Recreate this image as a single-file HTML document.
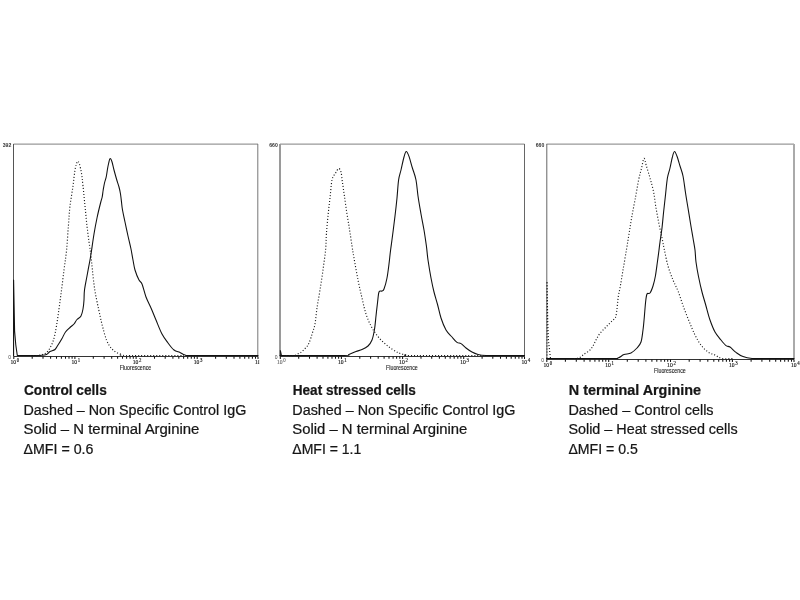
<!DOCTYPE html>
<html><head><meta charset="utf-8"><title>Flow cytometry</title>
<style>html,body{margin:0;padding:0;background:#fff}svg{display:block}</style></head>
<body>
<svg width="800" height="600" viewBox="0 0 800 600">
<rect width="800" height="600" fill="#fff"/>
<g fill="none" stroke-width="1">
<path d="M13.5,144.1H258.0" stroke="#999" stroke-width="1.4"/>
<path d="M13.5,144.0V356.5" stroke="#555" stroke-width="1"/>
<path d="M257.8,144.0V356.5" stroke="#777" stroke-width="1"/>
<path d="M13.5,356.5H258.0" stroke="#333" stroke-width="1"/>
<path d="M13.8,356.5v2.6M32.2,356.5v2.2M43.0,356.5v2.2M50.6,356.5v2.2M56.5,356.5v2.2M61.4,356.5v2.2M65.5,356.5v2.2M69.0,356.5v2.2M72.1,356.5v2.2M74.9,356.5v2.6M93.3,356.5v2.2M104.1,356.5v2.2M111.7,356.5v2.2M117.6,356.5v2.2M122.5,356.5v2.2M126.6,356.5v2.2M130.1,356.5v2.2M133.3,356.5v2.2M136.1,356.5v2.6M154.5,356.5v2.2M165.2,356.5v2.2M172.9,356.5v2.2M178.8,356.5v2.2M183.6,356.5v2.2M187.7,356.5v2.2M191.3,356.5v2.2M194.4,356.5v2.2M197.2,356.5v2.6M215.6,356.5v2.2M226.3,356.5v2.2M234.0,356.5v2.2M239.9,356.5v2.2M244.7,356.5v2.2M248.8,356.5v2.2M252.4,356.5v2.2M255.5,356.5v2.2M258.0,356.5v2.6" stroke="#111" stroke-width="1.05"/>
</g>
<g font-family="'Liberation Serif',serif" fill="#111" stroke="#111" stroke-width="0.15">
<text x="10.4" y="364.3" font-size="6.9" textLength="5.6" lengthAdjust="spacingAndGlyphs">10</text><text x="16.7" y="361.5" font-size="5.6" textLength="2.4" lengthAdjust="spacingAndGlyphs">0</text>
<text x="71.5" y="364.3" font-size="6.9" textLength="5.6" lengthAdjust="spacingAndGlyphs">10</text><text x="77.8" y="361.5" font-size="5.6" textLength="2.4" lengthAdjust="spacingAndGlyphs">1</text>
<text x="132.7" y="364.3" font-size="6.9" textLength="5.6" lengthAdjust="spacingAndGlyphs">10</text><text x="138.9" y="361.5" font-size="5.6" textLength="2.4" lengthAdjust="spacingAndGlyphs">2</text>
<text x="193.8" y="364.3" font-size="6.9" textLength="5.6" lengthAdjust="spacingAndGlyphs">10</text><text x="200.1" y="361.5" font-size="5.6" textLength="2.4" lengthAdjust="spacingAndGlyphs">3</text>
<clipPath id="cl1"><rect x="250" y="350" width="9.2" height="20"/></clipPath>
<text x="254.9" y="364.3" font-size="6.9" textLength="5.6" lengthAdjust="spacingAndGlyphs" clip-path="url(#cl1)">10</text>
</g>
<g font-family="'Liberation Sans',sans-serif" fill="#222">
<text x="2.7" y="146.9" font-size="5.6" font-weight="bold" fill="#333" textLength="8.6" lengthAdjust="spacingAndGlyphs">392</text>
<text x="11.0" y="359.0" font-size="5" text-anchor="end" fill="#444">0</text>
<text x="119.7" y="370.2" font-size="6.8" textLength="31.6" lengthAdjust="spacingAndGlyphs" stroke="#222" stroke-width="0.12">Fluorescence</text>
</g>
<g fill="none" stroke-width="1">
<path d="M280.0,144.1H524.5" stroke="#999" stroke-width="1.4"/>
<path d="M280.0,144.0V356.5" stroke="#9a9a9a" stroke-width="2"/>
<path d="M524.5,144.0V356.5" stroke="#666" stroke-width="1"/>
<path d="M280.0,356.5H524.5" stroke="#333" stroke-width="1"/>
<path d="M280.3,356.5v2.6M298.7,356.5v2.2M309.5,356.5v2.2M317.1,356.5v2.2M323.0,356.5v2.2M327.9,356.5v2.2M332.0,356.5v2.2M335.5,356.5v2.2M338.6,356.5v2.2M341.4,356.5v2.6M359.8,356.5v2.2M370.6,356.5v2.2M378.2,356.5v2.2M384.1,356.5v2.2M389.0,356.5v2.2M393.1,356.5v2.2M396.6,356.5v2.2M399.8,356.5v2.2M402.6,356.5v2.6M421.0,356.5v2.2M431.7,356.5v2.2M439.4,356.5v2.2M445.3,356.5v2.2M450.1,356.5v2.2M454.2,356.5v2.2M457.8,356.5v2.2M460.9,356.5v2.2M463.7,356.5v2.6M482.1,356.5v2.2M492.8,356.5v2.2M500.5,356.5v2.2M506.4,356.5v2.2M511.2,356.5v2.2M515.3,356.5v2.2M518.9,356.5v2.2M522.0,356.5v2.2M524.5,356.5v2.6" stroke="#111" stroke-width="1.05"/>
</g>
<g font-family="'Liberation Serif',serif" fill="#111" stroke="#111" stroke-width="0.15">
<text x="276.9" y="364.3" font-size="6.9" textLength="5.6" lengthAdjust="spacingAndGlyphs" fill="#6a6a6a" stroke="#6a6a6a">10</text><text x="283.2" y="361.5" font-size="5.6" textLength="2.4" lengthAdjust="spacingAndGlyphs" fill="#6a6a6a" stroke="#6a6a6a">0</text>
<text x="338.0" y="364.3" font-size="6.9" textLength="5.6" lengthAdjust="spacingAndGlyphs">10</text><text x="344.3" y="361.5" font-size="5.6" textLength="2.4" lengthAdjust="spacingAndGlyphs">1</text>
<text x="399.1" y="364.3" font-size="6.9" textLength="5.6" lengthAdjust="spacingAndGlyphs">10</text><text x="405.4" y="361.5" font-size="5.6" textLength="2.4" lengthAdjust="spacingAndGlyphs">2</text>
<text x="460.3" y="364.3" font-size="6.9" textLength="5.6" lengthAdjust="spacingAndGlyphs">10</text><text x="466.6" y="361.5" font-size="5.6" textLength="2.4" lengthAdjust="spacingAndGlyphs">3</text>
<text x="521.4" y="364.3" font-size="6.9" textLength="5.6" lengthAdjust="spacingAndGlyphs">10</text><text x="527.7" y="361.5" font-size="5.6" textLength="2.4" lengthAdjust="spacingAndGlyphs">4</text>
</g>
<g font-family="'Liberation Sans',sans-serif" fill="#222">
<text x="269.2" y="146.9" font-size="5.6" font-weight="bold" fill="#333" textLength="8.6" lengthAdjust="spacingAndGlyphs">660</text>
<text x="277.5" y="359.0" font-size="5" text-anchor="end" fill="#444">0</text>
<text x="386.1" y="370.4" font-size="6.8" textLength="31.6" lengthAdjust="spacingAndGlyphs" stroke="#222" stroke-width="0.12">Fluorescence</text>
</g>
<g fill="none" stroke-width="1">
<path d="M546.5,144.1H794.0" stroke="#999" stroke-width="1.4"/>
<path d="M546.8,144.0V359.5" stroke="#666" stroke-width="1"/>
<path d="M794.0,144.0V359.5" stroke="#aaa" stroke-width="2"/>
<path d="M546.5,359.5H794.0" stroke="#333" stroke-width="1"/>
<path d="M546.8,359.5v2.6M565.4,359.5v2.2M576.3,359.5v2.2M584.1,359.5v2.2M590.0,359.5v2.2M594.9,359.5v2.2M599.1,359.5v2.2M602.7,359.5v2.2M605.8,359.5v2.2M608.7,359.5v2.6M627.3,359.5v2.2M638.2,359.5v2.2M645.9,359.5v2.2M651.9,359.5v2.2M656.8,359.5v2.2M661.0,359.5v2.2M664.6,359.5v2.2M667.7,359.5v2.2M670.5,359.5v2.6M689.2,359.5v2.2M700.1,359.5v2.2M707.8,359.5v2.2M713.8,359.5v2.2M718.7,359.5v2.2M722.8,359.5v2.2M726.4,359.5v2.2M729.6,359.5v2.2M732.4,359.5v2.6M751.1,359.5v2.2M761.9,359.5v2.2M769.7,359.5v2.2M775.7,359.5v2.2M780.6,359.5v2.2M784.7,359.5v2.2M788.3,359.5v2.2M791.5,359.5v2.2M794.0,359.5v2.6" stroke="#111" stroke-width="1.05"/>
</g>
<g font-family="'Liberation Serif',serif" fill="#111" stroke="#111" stroke-width="0.15">
<text x="543.4" y="367.3" font-size="6.9" textLength="5.6" lengthAdjust="spacingAndGlyphs">10</text><text x="549.7" y="364.5" font-size="5.6" textLength="2.4" lengthAdjust="spacingAndGlyphs">0</text>
<text x="605.3" y="367.3" font-size="6.9" textLength="5.6" lengthAdjust="spacingAndGlyphs">10</text><text x="611.6" y="364.5" font-size="5.6" textLength="2.4" lengthAdjust="spacingAndGlyphs">1</text>
<text x="667.1" y="367.3" font-size="6.9" textLength="5.6" lengthAdjust="spacingAndGlyphs">10</text><text x="673.5" y="364.5" font-size="5.6" textLength="2.4" lengthAdjust="spacingAndGlyphs">2</text>
<text x="729.0" y="367.3" font-size="6.9" textLength="5.6" lengthAdjust="spacingAndGlyphs">10</text><text x="735.3" y="364.5" font-size="5.6" textLength="2.4" lengthAdjust="spacingAndGlyphs">3</text>
<text x="790.9" y="367.3" font-size="6.9" textLength="5.6" lengthAdjust="spacingAndGlyphs">10</text><text x="797.2" y="364.5" font-size="5.6" textLength="2.4" lengthAdjust="spacingAndGlyphs">4</text>
</g>
<g font-family="'Liberation Sans',sans-serif" fill="#222">
<text x="535.7" y="146.9" font-size="5.6" font-weight="bold" fill="#333" textLength="8.6" lengthAdjust="spacingAndGlyphs">660</text>
<text x="544.0" y="362.0" font-size="5" text-anchor="end" fill="#444">0</text>
<text x="654.1" y="373.1" font-size="6.8" textLength="31.6" lengthAdjust="spacingAndGlyphs" stroke="#222" stroke-width="0.12">Fluorescence</text>
</g>
<g fill="none" stroke="#111" stroke-width="1.08" stroke-linejoin="round" stroke-linecap="round">
<path d="M13.6,355.5L13.6,280.0L14.6,331.0L15.8,345.0L17.3,355.5L40.0,355.5"/>
<path d="M40.0,355.5C41.1,355.3 44.8,355.2 46.5,354.5C48.2,353.8 48.6,352.3 50.0,351.5C51.4,350.7 53.7,350.6 55.0,349.5C56.3,348.4 56.8,346.8 58.0,345.0C59.2,343.2 60.8,340.7 62.0,338.5C63.2,336.3 64.2,333.8 65.5,332.0C66.8,330.2 68.6,328.8 70.0,327.5C71.4,326.2 72.8,325.3 74.0,324.0C75.2,322.7 75.8,320.8 77.0,319.5C78.2,318.2 80.0,317.8 81.0,316.0C82.0,314.2 82.5,311.7 83.0,309.0C83.5,306.3 83.8,303.2 84.0,300.0C84.2,296.8 84.0,294.0 84.5,290.0C85.0,286.0 86.1,281.0 87.0,276.0C87.9,271.0 89.3,263.7 90.0,260.0C90.7,256.3 90.3,258.3 91.0,254.0C91.7,249.7 93.0,240.0 94.0,234.0C95.0,228.0 95.9,223.3 97.0,218.0C98.1,212.7 99.9,205.5 100.8,202.0C101.7,198.5 101.8,199.0 102.2,197.0C102.6,195.0 102.8,192.3 103.2,190.0C103.6,187.7 104.0,185.2 104.5,183.0C105.0,180.8 105.7,179.3 106.2,177.0C106.7,174.7 107.1,171.3 107.5,169.0C107.9,166.7 108.3,164.7 108.7,163.0C109.1,161.3 109.5,158.9 110.0,158.6C110.5,158.3 111.1,159.3 111.8,161.2C112.5,163.1 113.2,167.0 114.0,170.0C114.8,173.0 115.7,176.2 116.5,179.0C117.3,181.8 118.3,184.5 119.0,187.0C119.7,189.5 120.1,191.5 120.5,194.0C120.9,196.5 121.2,199.3 121.5,202.0C121.8,204.7 121.9,206.7 122.5,210.0C123.1,213.3 124.1,217.7 125.0,222.0C125.9,226.3 127.0,231.5 128.0,236.0C129.0,240.5 130.2,245.0 131.0,249.0C131.8,253.0 132.3,256.5 133.0,260.0C133.7,263.5 134.0,266.7 135.0,270.0C136.0,273.3 137.8,277.7 139.0,280.0C140.2,282.3 140.8,281.2 142.0,284.0C143.2,286.8 144.5,293.0 146.0,297.0C147.5,301.0 149.3,304.2 151.0,308.0C152.7,311.8 154.2,315.7 156.0,320.0C157.8,324.3 160.0,330.2 162.0,334.0C164.0,337.8 166.0,340.3 168.0,343.0C170.0,345.7 172.0,348.4 174.0,350.0C176.0,351.6 178.2,351.6 180.0,352.4C181.8,353.2 182.7,354.5 185.0,355.0C187.3,355.5 181.8,355.4 194.0,355.5C206.2,355.6 247.3,355.5 258.0,355.5"/>
<path d="M280.0,355.5C290.3,355.5 330.5,355.7 342.0,355.5C353.5,355.3 346.7,355.1 349.0,354.4C351.3,353.7 353.8,352.2 356.0,351.4C358.2,350.6 360.0,350.5 362.0,349.6C364.0,348.7 366.3,347.6 368.0,346.0C369.7,344.4 370.9,342.7 372.0,340.0C373.1,337.3 373.7,334.0 374.4,330.0C375.1,326.0 375.5,320.7 376.0,316.0C376.5,311.3 377.1,306.0 377.6,302.0C378.1,298.0 378.3,293.8 379.0,292.0C379.7,290.2 381.2,291.5 382.0,291.0C382.8,290.5 383.2,291.2 384.0,289.0C384.8,286.8 386.2,282.2 387.0,278.0C387.8,273.8 388.4,268.7 389.0,264.0C389.6,259.3 389.9,255.3 390.6,250.0C391.3,244.7 392.3,237.7 393.0,232.0C393.7,226.3 394.3,221.7 395.0,216.0C395.7,210.3 396.4,204.0 397.0,198.0C397.6,192.0 397.9,184.7 398.6,180.0C399.3,175.3 400.1,173.8 401.0,170.0C401.9,166.2 403.1,160.1 404.0,157.0C404.9,153.9 405.4,151.6 406.2,151.5C407.0,151.4 408.0,153.7 409.0,156.4C410.0,159.2 411.2,164.1 412.4,168.0C413.6,171.9 415.1,175.3 416.0,180.0C416.9,184.7 417.2,190.3 418.0,196.0C418.8,201.7 420.0,208.3 421.0,214.0C422.0,219.7 423.1,224.7 424.0,230.0C424.9,235.3 425.7,241.0 426.4,246.0C427.1,251.0 427.2,254.7 428.0,260.0C428.8,265.3 430.0,272.7 431.0,278.0C432.0,283.3 432.9,287.7 434.0,292.0C435.1,296.3 436.2,299.7 437.4,304.0C438.6,308.3 439.6,313.7 441.0,318.0C442.4,322.3 444.2,326.8 446.0,330.0C447.8,333.2 450.2,334.9 452.0,337.0C453.8,339.1 455.5,341.3 457.0,342.4C458.5,343.5 459.5,342.7 461.0,343.6C462.5,344.5 464.2,346.6 466.0,348.0C467.8,349.4 470.0,350.9 472.0,352.0C474.0,353.1 475.7,353.8 478.0,354.4C480.3,355.0 482.3,355.3 486.0,355.5C489.7,355.7 493.6,355.5 500.0,355.5C506.4,355.5 520.4,355.5 524.5,355.5"/>
<path d="M280.4,355.5L280.4,350.5L281.6,355.5" stroke-width="0.9"/>
<path d="M546.5,358.5C557.1,358.5 598.1,358.6 610.0,358.5C621.9,358.4 615.7,358.6 618.0,358.0C620.3,357.4 621.8,355.4 624.0,354.6C626.2,353.8 628.8,354.1 631.0,353.0C633.2,351.9 635.3,349.8 637.0,348.0C638.7,346.2 640.0,345.0 641.0,342.0C642.0,339.0 642.4,334.3 643.0,330.0C643.6,325.7 644.0,320.7 644.4,316.0C644.8,311.3 645.2,305.7 645.6,302.0C646.0,298.3 646.3,295.5 647.0,294.0C647.7,292.5 649.0,294.3 650.0,293.0C651.0,291.7 652.1,288.8 653.0,286.0C653.9,283.2 654.7,280.0 655.4,276.0C656.1,272.0 656.8,266.3 657.4,262.0C658.0,257.7 658.6,253.3 659.0,250.0C659.4,246.7 659.5,245.7 660.0,242.0C660.5,238.3 661.4,233.0 662.0,228.0C662.6,223.0 663.0,217.7 663.6,212.0C664.2,206.3 665.0,199.7 665.6,194.0C666.2,188.3 666.7,182.3 667.4,178.0C668.1,173.7 669.2,171.5 670.0,168.0C670.8,164.5 671.6,159.8 672.4,157.0C673.1,154.2 673.7,151.6 674.5,151.5C675.3,151.4 676.1,153.9 677.0,156.3C677.9,158.7 679.0,162.7 680.0,166.0C681.0,169.3 682.1,171.7 683.0,176.0C683.9,180.3 684.6,186.7 685.4,192.0C686.2,197.3 687.1,202.7 688.0,208.0C688.9,213.3 689.8,219.0 690.6,224.0C691.4,229.0 692.3,233.7 693.0,238.0C693.7,242.3 694.5,246.0 695.0,250.0C695.5,254.0 695.4,257.7 696.0,262.0C696.6,266.3 697.4,271.0 698.4,276.0C699.4,281.0 700.7,287.0 702.0,292.0C703.3,297.0 704.7,301.3 706.0,306.0C707.3,310.7 708.5,315.7 710.0,320.0C711.5,324.3 713.2,328.7 715.0,332.0C716.8,335.3 719.2,337.7 721.0,340.0C722.8,342.3 724.5,344.4 726.0,345.6C727.5,346.8 728.3,345.9 730.0,347.0C731.7,348.1 733.8,350.8 736.0,352.4C738.2,354.0 740.3,355.6 743.0,356.6C745.7,357.6 748.8,358.2 752.0,358.5C755.2,358.8 755.0,358.5 762.0,358.5C769.0,358.5 788.7,358.5 794.0,358.5"/>
</g>
<g fill="none" stroke="#1a1a1a" stroke-width="1.15" stroke-dasharray="1.05 1.95">
<path d="M30.0,355.5C31.3,355.5 35.7,355.8 38.0,355.5C40.3,355.2 42.3,354.8 44.0,354.0C45.7,353.2 46.7,352.7 48.0,351.0C49.3,349.3 50.8,346.8 52.0,344.0C53.2,341.2 54.0,338.7 55.0,334.0C56.0,329.3 57.0,322.7 58.0,316.0C59.0,309.3 60.0,301.7 61.0,294.0C62.0,286.3 63.1,277.3 64.0,270.0C64.9,262.7 65.9,257.3 66.6,250.0C67.3,242.7 67.8,233.3 68.4,226.0C69.0,218.7 69.2,212.7 70.0,206.0C70.8,199.3 72.2,192.0 73.0,186.0C73.8,180.0 74.3,174.1 75.0,170.0C75.7,165.9 76.7,162.6 77.4,161.6C78.1,160.6 78.7,161.9 79.4,164.0C80.1,166.1 81.0,170.3 81.6,174.0C82.2,177.7 82.4,180.7 83.0,186.0C83.6,191.3 84.3,199.3 85.0,206.0C85.7,212.7 86.2,219.3 87.0,226.0C87.8,232.7 88.9,241.0 89.6,246.0C90.3,251.0 90.5,252.0 91.0,256.0C91.5,260.0 91.8,264.3 92.4,270.0C93.0,275.7 93.7,283.3 94.8,290.0C95.9,296.7 97.5,304.0 98.8,310.0C100.1,316.0 101.1,321.0 102.4,326.0C103.7,331.0 105.2,336.6 106.5,340.0C107.8,343.4 108.9,344.8 110.0,346.5C111.1,348.2 111.9,349.0 113.0,350.0C114.1,351.0 115.1,351.8 116.5,352.5C117.9,353.2 119.9,353.9 121.5,354.4C123.1,354.9 115.6,355.3 126.0,355.5C136.4,355.7 174.3,355.5 184.0,355.5"/>
<path d="M286.0,355.5C287.3,355.5 291.9,355.8 294.0,355.5C296.1,355.2 297.2,354.2 298.5,353.6C299.8,353.0 300.6,352.7 301.5,352.0C302.4,351.3 303.1,350.5 304.0,349.6C304.9,348.7 306.2,347.5 307.0,346.5C307.8,345.5 308.1,345.0 308.8,343.5C309.5,342.0 310.3,339.6 311.0,337.5C311.7,335.4 312.3,333.2 313.0,331.0C313.7,328.8 314.3,327.8 315.0,324.0C315.7,320.2 316.2,313.7 317.0,308.0C317.8,302.3 319.0,296.3 320.0,290.0C321.0,283.7 322.1,276.7 323.0,270.0C323.9,263.3 325.0,256.0 325.6,250.0C326.2,244.0 326.0,239.7 326.4,234.0C326.8,228.3 327.4,222.0 328.0,216.0C328.6,210.0 329.3,204.0 330.0,198.0C330.7,192.0 331.1,184.2 332.0,180.0C332.9,175.8 334.5,174.9 335.6,173.0C336.7,171.1 337.7,168.8 338.6,168.6C339.5,168.4 340.4,169.8 341.0,172.0C341.6,174.2 341.8,178.0 342.4,182.0C343.0,186.0 343.6,190.7 344.4,196.0C345.2,201.3 346.1,208.3 347.0,214.0C347.9,219.7 348.8,224.7 349.6,230.0C350.4,235.3 351.3,241.3 352.0,246.0C352.7,250.7 353.0,252.3 354.0,258.0C355.0,263.7 356.7,273.3 358.0,280.0C359.3,286.7 360.7,292.3 362.0,298.0C363.3,303.7 364.5,309.3 366.0,314.0C367.5,318.7 369.3,322.7 371.0,326.0C372.7,329.3 374.2,331.5 376.0,334.0C377.8,336.5 379.8,338.8 382.0,341.0C384.2,343.2 386.7,345.2 389.0,347.0C391.3,348.8 394.3,350.5 396.0,351.5C397.7,352.5 397.9,352.6 399.0,353.0C400.1,353.4 401.2,353.9 402.5,354.2C403.8,354.5 405.2,354.7 406.5,354.9C407.8,355.1 397.1,355.4 410.0,355.5C422.9,355.6 471.7,355.5 484.0,355.5"/>
<path d="M547.0,358.5L547.0,281.3L547.7,320.0L548.4,340.0L550.1,355.0L550.5,358.5"/>
<path d="M574.0,358.5C574.8,358.4 577.3,358.7 579.0,358.0C580.7,357.3 582.2,355.6 584.0,354.3C585.8,353.0 588.4,351.6 590.0,350.0C591.6,348.4 592.4,346.8 593.5,345.0C594.6,343.2 595.5,340.8 596.5,339.0C597.5,337.2 598.2,335.7 599.5,334.0C600.8,332.3 602.6,330.5 604.0,329.0C605.4,327.5 606.7,326.3 608.0,325.0C609.3,323.7 610.8,322.2 612.0,321.0C613.2,319.8 614.5,319.3 615.3,317.8C616.1,316.3 616.2,314.3 616.6,312.0C617.0,309.7 617.2,306.7 617.5,304.0C617.8,301.3 618.0,298.7 618.4,296.0C618.8,293.3 619.2,292.3 620.0,288.0C620.8,283.7 621.9,276.3 623.0,270.0C624.1,263.7 625.4,256.0 626.4,250.0C627.4,244.0 628.1,239.3 629.0,234.0C629.9,228.7 630.6,223.7 631.6,218.0C632.6,212.3 633.8,206.3 635.0,200.0C636.2,193.7 637.5,185.3 638.6,180.0C639.7,174.7 640.7,171.6 641.6,168.0C642.5,164.4 643.2,158.7 644.0,158.4C644.8,158.1 645.4,162.7 646.4,166.0C647.4,169.3 648.8,173.7 650.0,178.0C651.2,182.3 652.6,187.0 653.6,192.0C654.6,197.0 655.1,202.7 656.0,208.0C656.9,213.3 658.0,219.0 659.0,224.0C660.0,229.0 661.1,233.7 662.0,238.0C662.9,242.3 663.4,245.3 664.4,250.0C665.4,254.7 666.6,261.0 668.0,266.0C669.4,271.0 671.3,275.8 673.0,280.0C674.7,284.2 676.3,286.8 678.0,291.0C679.7,295.2 681.2,300.5 683.0,305.5C684.8,310.5 687.0,316.1 689.0,321.0C691.0,325.9 693.0,331.0 695.0,335.0C697.0,339.0 698.8,342.2 701.0,345.0C703.2,347.8 705.7,350.3 708.0,352.0C710.3,353.7 712.7,353.9 715.0,355.0C717.3,356.1 718.8,357.9 722.0,358.5C725.2,359.1 732.0,358.5 734.0,358.5"/>
</g>
<g font-family="'Liberation Sans',sans-serif" font-size="13.8" fill="#161616" stroke="#161616" stroke-width="0.22">
<text id="c0_0" x="23.9" y="395.3" font-weight="bold" font-size="14.3" textLength="82.9" lengthAdjust="spacingAndGlyphs">Control cells</text>
<text id="c0_1" x="23.5" y="414.7" textLength="222.8" lengthAdjust="spacingAndGlyphs">Dashed – Non Specific Control IgG</text>
<text id="c0_2" x="23.5" y="433.8" textLength="175.9" lengthAdjust="spacingAndGlyphs">Solid – N terminal Arginine</text>
<text id="c0_3" x="23.5" y="453.7" textLength="69.9" lengthAdjust="spacingAndGlyphs">ΔMFI = 0.6</text>
<text id="c1_0" x="292.7" y="395.3" font-weight="bold" font-size="14.3" textLength="123.2" lengthAdjust="spacingAndGlyphs">Heat stressed cells</text>
<text id="c1_1" x="292.3" y="414.7" textLength="223.2" lengthAdjust="spacingAndGlyphs">Dashed – Non Specific Control IgG</text>
<text id="c1_2" x="292.3" y="433.8" textLength="175.0" lengthAdjust="spacingAndGlyphs">Solid – N terminal Arginine</text>
<text id="c1_3" x="292.3" y="453.7" textLength="69.0" lengthAdjust="spacingAndGlyphs">ΔMFI = 1.1</text>
<text id="c2_0" x="568.8" y="395.3" font-weight="bold" font-size="14.3" textLength="132.2" lengthAdjust="spacingAndGlyphs">N terminal Arginine</text>
<text id="c2_1" x="568.4" y="414.7" textLength="145.2" lengthAdjust="spacingAndGlyphs">Dashed – Control cells</text>
<text id="c2_2" x="568.4" y="433.8" textLength="169.2" lengthAdjust="spacingAndGlyphs">Solid – Heat stressed cells</text>
<text id="c2_3" x="568.4" y="453.7" textLength="69.4" lengthAdjust="spacingAndGlyphs">ΔMFI = 0.5</text>
</g>
</svg>
</body></html>
